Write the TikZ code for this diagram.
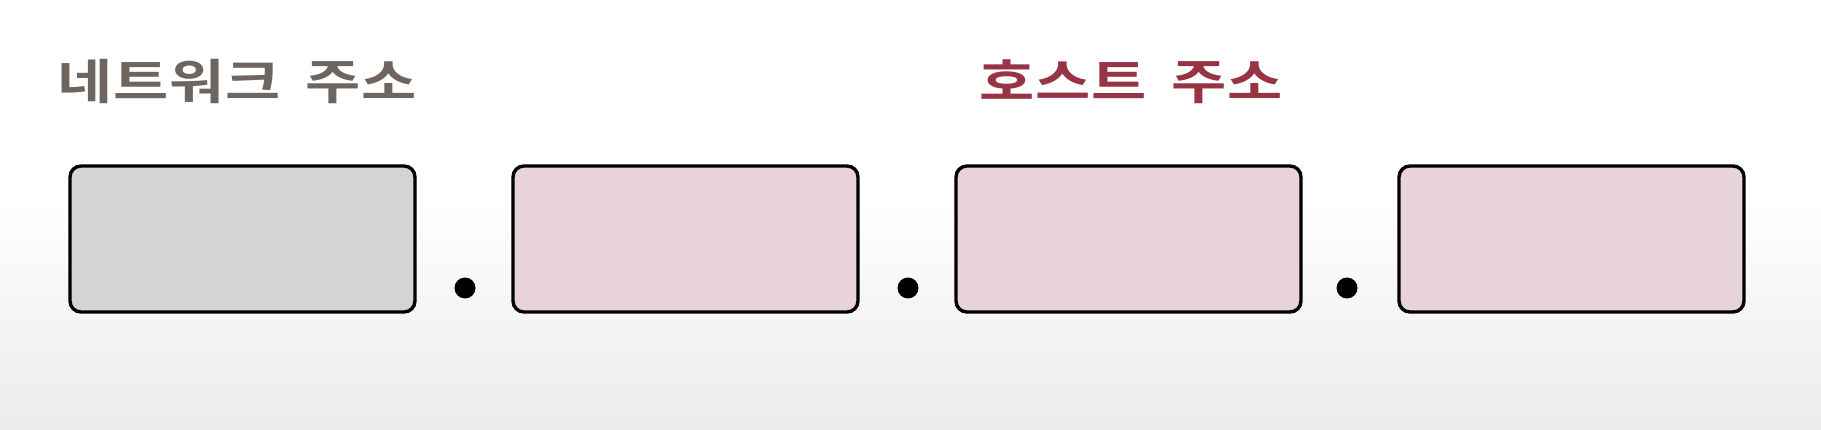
\documentclass[tikz,border=0pt]{standalone}
\usepackage{fontspec}
\newfontfamily\kr{Noto Sans CJK KR}[BoldFont={Noto Sans CJK KR Bold}]
\definecolor{nettext}{HTML}{6E6560}
\definecolor{hosttext}{HTML}{983344}
\definecolor{netfill}{HTML}{D4D4D4}
\definecolor{hostfill}{HTML}{E8D3D8}
\definecolor{bgbottom}{HTML}{EBEBEB}
\newcommand{\kc}[1]{\makebox[44.8pt]{#1}}
\newcommand{\ks}{\hspace*{19.2pt}}
\newcommand{\widen}[1]{\scalebox{1.25}[1]{#1}}
\begin{document}
\begin{tikzpicture}[x=1pt,y=-1pt,
  octet/.style={draw=black,line width=3.4pt,rounded corners=11pt,minimum width=345pt,minimum height=146pt,inner sep=0pt},
  sepdot/.style={circle,fill=black,minimum size=21pt,inner sep=0pt},
  title/.style={font=\kr\bfseries\fontsize{48}{58}\selectfont,inner sep=0pt}]
\useasboundingbox (0,0) rectangle (1821,430);
\fill[white] (0,0) rectangle (1821,200);
\shade[top color=white,bottom color=bgbottom] (0,200) rectangle (1821,430);
\node[title,text=nettext,anchor=west] (netlabel) at (57,82) {\widen{\kc{네}\kc{트}\kc{워}\kc{크}\ks\kc{주}\kc{소}}};
\node[title,text=hosttext,anchor=west] (hostlabel) at (979,82) {\widen{\kc{호}\kc{스}\kc{트}\ks\kc{주}\kc{소}}};
\node[octet,fill=netfill] (o1) at (242.5,239) {};
\node[octet,fill=hostfill] (o2) at (685.5,239) {};
\node[octet,fill=hostfill] (o3) at (1128.5,239) {};
\node[octet,fill=hostfill] (o4) at (1571.5,239) {};
\node[sepdot] (d1) at (465,288) {};
\node[sepdot] (d2) at (908,288) {};
\node[sepdot] (d3) at (1347,288) {};
\end{tikzpicture}
\end{document}
